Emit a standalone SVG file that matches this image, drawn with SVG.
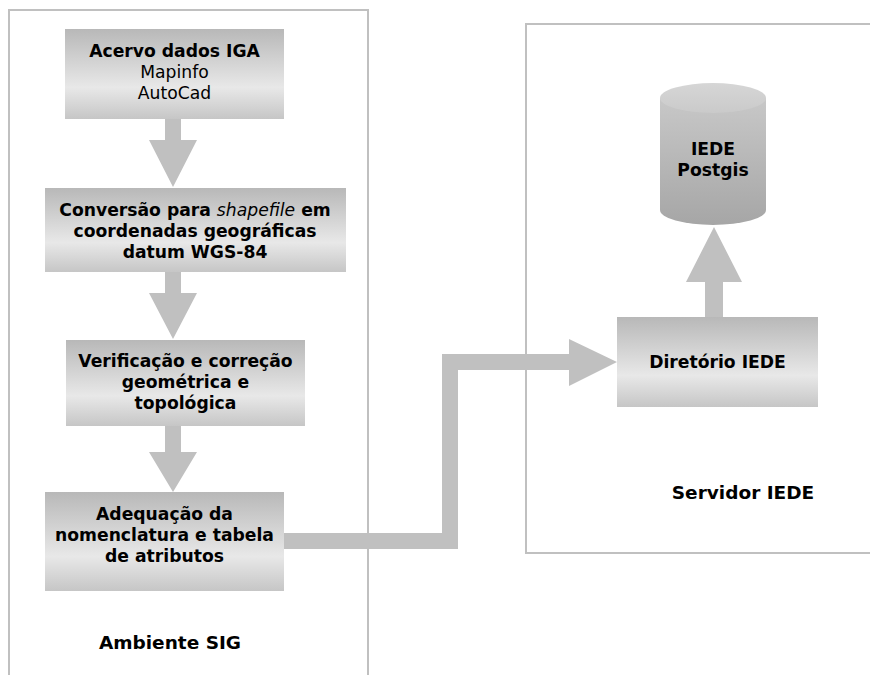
<svg xmlns="http://www.w3.org/2000/svg" width="870" height="675" viewBox="0 0 870 675">
<style>
.frame{fill:none;stroke:#c0c0c0;stroke-width:2}
.arr{fill:#c0c0c0}
.box{fill:url(#gb)}
text{font-family:"DejaVu Sans","Liberation Sans",sans-serif;font-size:17.2px;fill:#000;text-anchor:middle}
.b{font-weight:bold}
.cap{font-weight:bold;font-size:18.5px}
</style>
<defs>
<linearGradient id="gb" x1="0" y1="0" x2="0" y2="1">
<stop offset="0" stop-color="#b8b8b8"/>
<stop offset="0.65" stop-color="#e8e8e8"/>
<stop offset="1" stop-color="#c6c6c6"/>
</linearGradient>
<linearGradient id="gc" x1="0" y1="0" x2="0" y2="1">
<stop offset="0" stop-color="#c8c8c8"/>
<stop offset="1" stop-color="#a6a6a6"/>
</linearGradient>
<linearGradient id="gt" x1="0" y1="0" x2="0" y2="1">
<stop offset="0" stop-color="#d6d6d6"/>
<stop offset="1" stop-color="#cacaca"/>
</linearGradient>
</defs>
<g id="containers">
<path class="frame" d="M9,675 V10 H368 V675"/>
<path class="frame" d="M871,24 H526 V553 H871"/>
</g>
<g id="connectors">
<polygon class="arr" points="165,119 181,119 181,140 197,140 173,187 149,140 165,140"/>
<polygon class="arr" points="165,272 181,272 181,293 197,293 173,339 149,293 165,293"/>
<polygon class="arr" points="165,426 181,426 181,452 197,452 173,492 149,452 165,452"/>
<polygon class="arr" points="284,533 442,533 442,354 569,354 569,339 617,362 569,386 569,370 458,370 458,549 284,549"/>
<polygon class="arr" points="705,317 723,317 723,282 742,282 714,227 686,282 705,282"/>
</g>
<g id="n1">
<rect class="box" x="65" y="29" width="219" height="90"/>
<text class="b" x="174.5" y="57">Acervo dados IGA</text>
<text x="174.5" y="78">Mapinfo</text>
<text x="174.5" y="99">AutoCad</text>
</g>
<g id="n2">
<rect class="box" x="45" y="188" width="301" height="84"/>
<text class="b" x="195" y="216">Conversão para <tspan font-style="italic" font-weight="normal">shapefile</tspan> em</text>
<text class="b" x="195" y="237">coordenadas geográficas</text>
<text class="b" x="195" y="258">datum WGS-84</text>
</g>
<g id="n3">
<rect class="box" x="66" y="340" width="239" height="86"/>
<text class="b" x="185.5" y="367">Verificação e correção</text>
<text class="b" x="185.5" y="388">geométrica e</text>
<text class="b" x="185.5" y="409">topológica</text>
</g>
<g id="n4">
<rect class="box" x="45" y="492" width="239" height="99"/>
<text class="b" x="164.5" y="520">Adequação da</text>
<text class="b" x="164.5" y="541">nomenclatura e tabela</text>
<text class="b" x="164.5" y="562">de atributos</text>
</g>
<g id="n5">
<rect class="box" x="617" y="317" width="201" height="90"/>
<text class="b" x="717.5" y="368">Diretório IEDE</text>
</g>
<g id="n6">
<path d="M660,98 V210 A53,15 0 0 0 766,210 V98 Z" fill="url(#gc)"/>
<ellipse cx="713" cy="98" rx="53" ry="15" fill="url(#gt)"/>
<text class="b" x="713" y="155">IEDE</text>
<text class="b" x="713" y="176">Postgis</text>
</g>
<g id="labels">
<text class="cap" x="743" y="499">Servidor IEDE</text>
<text class="cap" x="170" y="649">Ambiente SIG</text>
</g>
</svg>
